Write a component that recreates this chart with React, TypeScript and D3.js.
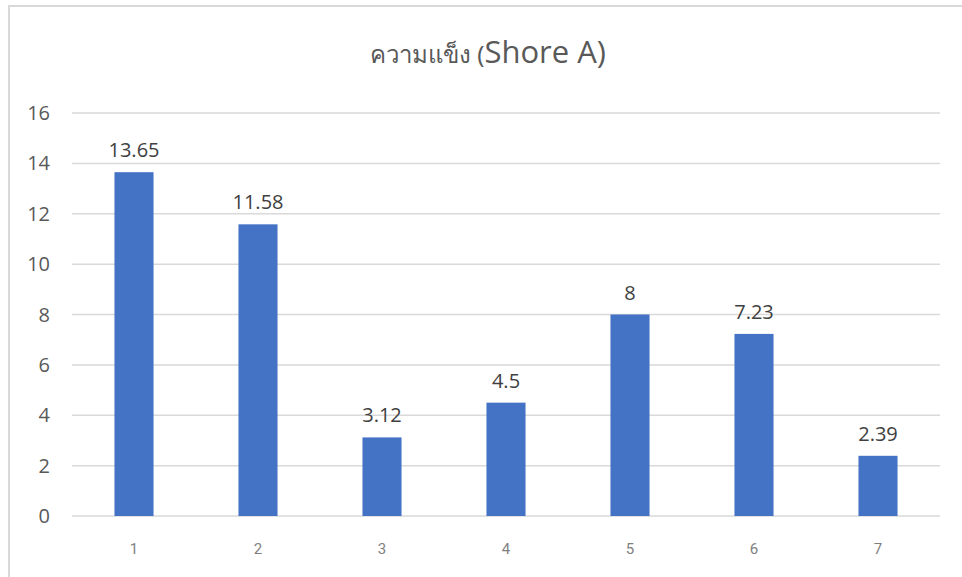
import React from "react";
import * as d3 from "d3";

const categories = ["1", "2", "3", "4", "5", "6", "7"];
const values = [13.65, 11.58, 3.12, 4.5, 8, 7.23, 2.39];
const valueLabels = ["13.65", "11.58", "3.12", "4.5", "8", "7.23", "2.39"];
const yTicks = [0, 2, 4, 6, 8, 10, 12, 14, 16];

export default function App() {
  const W = 962, H = 577;
  const x = d3.scaleBand().domain(categories).range([72, 940]).paddingInner(0.685).paddingOuter(0.3425);
  const y = d3.scaleLinear().domain([0, 16]).range([516, 113]);
  const font = "'Segoe UI', 'Open Sans', 'Noto Sans', sans-serif";
  return (
    <svg width={W} height={H} style={{ position: "absolute", left: 0, top: 0, display: "block" }} fontFamily={font}>
      <rect x={0} y={0} width={W} height={H} fill="#fff" />
      <rect x={9} y={6} width={W + 20} height={H + 20} fill="none" stroke="#d9d9d9" strokeWidth={2} />
      <text x={488} y={63} textAnchor="middle" fill="#595959">
        <tspan fontSize={24} fontFamily="'Noto Sans', sans-serif">ความแข็ง (</tspan>
        <tspan fontSize={31}>Shore A)</tspan>
      </text>
      {yTicks.map((t) => (
        <g key={t}>
          <line x1={72} x2={940} y1={y(t)} y2={y(t)} stroke="#d9d9d9" strokeWidth={1.5} />
          <text x={50} y={y(t)} dy="0.35em" textAnchor="end" fontSize={20} fill="#595959">{t}</text>
        </g>
      ))}
      {categories.map((c, i) => (
        <g key={c}>
          <rect x={x(c)} y={y(values[i])} width={x.bandwidth()} height={y(0) - y(values[i])} fill="#4472C4" />
          <text x={x(c)! + x.bandwidth() / 2} y={y(values[i]) - 15} textAnchor="middle" fontSize={20} fill="#404040">{valueLabels[i]}</text>
          <text x={x(c)! + x.bandwidth() / 2} y={554} textAnchor="middle" fontSize={15} fontFamily="Roboto, 'Liberation Sans', sans-serif" fill="#7f7f7f">{c}</text>
        </g>
      ))}
    </svg>
  );
}
